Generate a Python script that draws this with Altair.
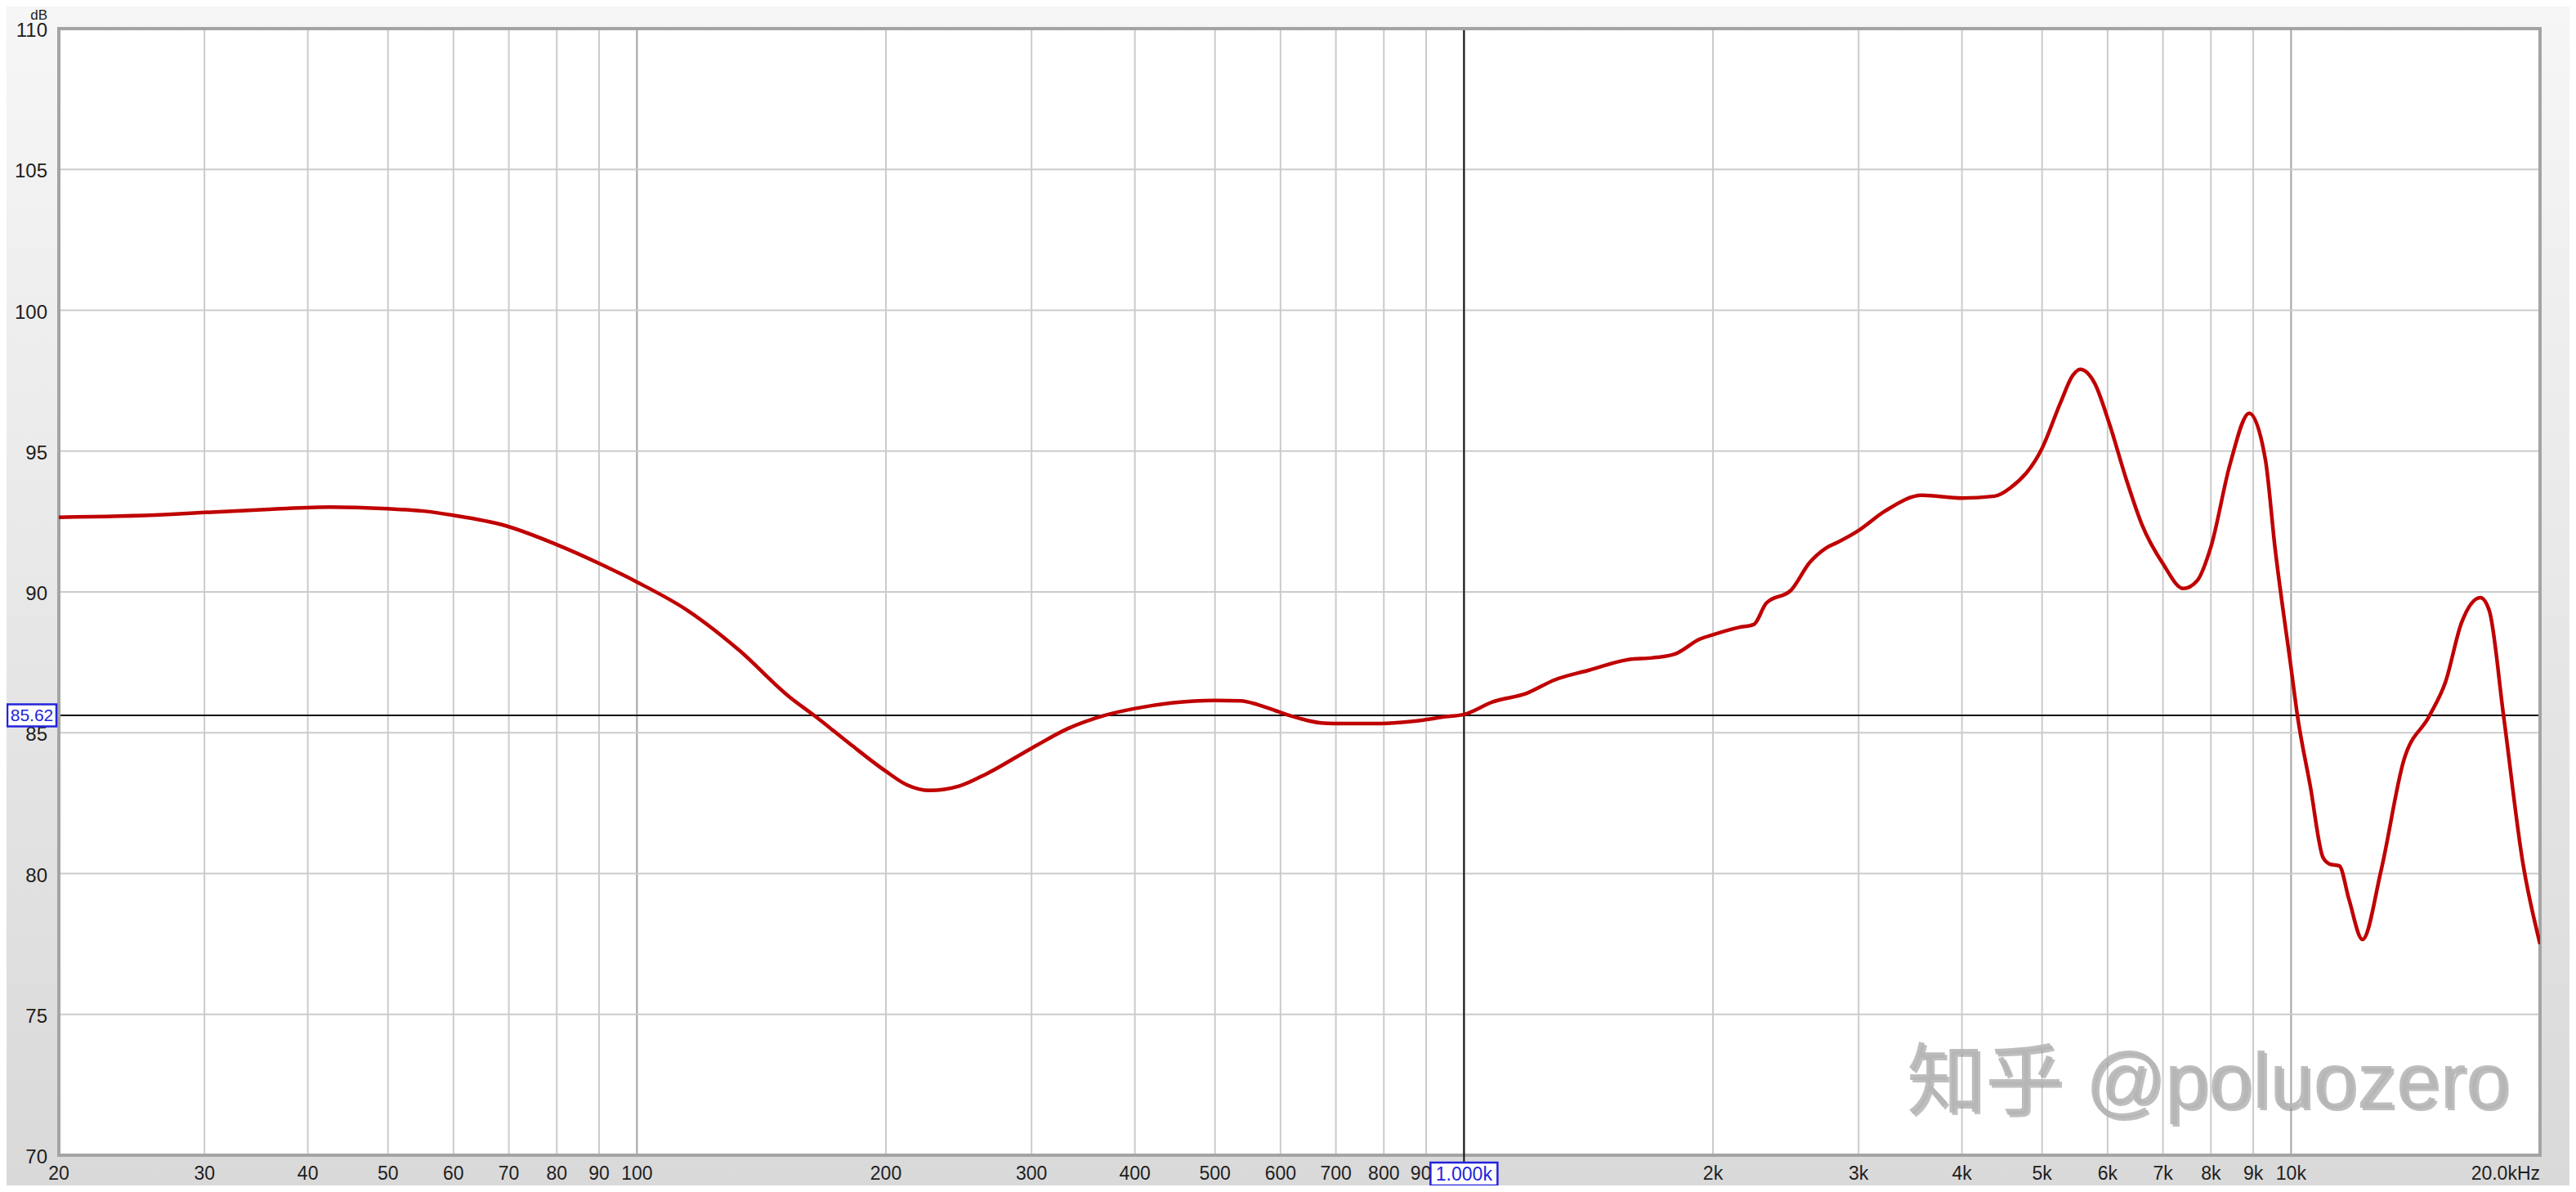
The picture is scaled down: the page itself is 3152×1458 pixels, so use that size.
import altair as alt
import pandas as pd

# ---------------- data ----------------
FREQ_HZ = [20, 26.8, 30, 35.9, 42.6, 50, 55.2, 60, 68.8, 80.3, 90.5, 100, 114.6, 132.9, 152.8,
           164, 181, 200, 212, 226, 245, 265, 300, 332, 366, 400, 443, 500, 537, 563, 600, 631,
           671, 697, 795, 863, 893, 950, 1000, 1084, 1190, 1288, 1416, 1581, 1690, 1800, 1930,
           2000, 2150, 2240, 2320, 2487, 2619, 2740, 2834, 3000, 3228, 3580, 4000, 4380, 4580,
           5000, 5260, 5450, 5560, 5790, 6030, 6320, 6600, 7000, 7410, 7700, 8000, 8440, 8900,
           9310, 9560, 10000, 10180, 10550, 10930, 11130, 11440, 11750, 12200, 12850, 13680,
           14700, 15370, 16070, 16940, 17360, 18070, 19060, 20000]
SPL_DB = [92.65, 92.74, 92.82, 92.93, 93.01, 92.95, 92.87, 92.72, 92.38, 91.66, 90.98, 90.35,
          89.38, 87.93, 86.28, 85.6, 84.6, 83.63, 83.15, 82.95, 83.1, 83.55, 84.45, 85.15, 85.6,
          85.86, 86.06, 86.15, 86.13, 86.0, 85.72, 85.52, 85.35, 85.33, 85.33, 85.4, 85.45, 85.57,
          85.65, 86.1, 86.4, 86.88, 87.22, 87.6, 87.66, 87.8, 88.33, 88.48, 88.74, 88.84, 89.6,
          90.07, 91.05, 91.56, 91.77, 92.18, 92.87, 93.43, 93.33, 93.4, 93.7, 95.1, 96.7, 97.7,
          97.9, 97.4, 95.97, 94.0, 92.4, 91.0, 90.12, 90.4, 91.6, 94.55, 96.34, 94.7, 91.6, 87.3,
          85.6, 83.1, 80.57, 80.34, 80.27, 79.08, 77.66, 80.12, 84.0, 85.6, 86.8, 88.9, 89.8,
          89.35, 85.6, 80.4, 77.5]

X_TICKS = [20, 30, 40, 50, 60, 70, 80, 90, 100, 200, 300, 400, 500, 600, 700, 800, 900,
           1000, 2000, 3000, 4000, 5000, 6000, 7000, 8000, 9000, 10000, 20000]
X_TICK_LABELS = ["20", "30", "40", "50", "60", "70", "80", "90", "100", "200", "300", "400",
                 "500", "600", "700", "800", "900", "1k", "2k", "3k", "4k", "5k", "6k", "7k",
                 "8k", "9k", "10k", "20.0kHz"]
DECADE_LINES = [100, 1000, 10000]
Y_TICKS = [70, 75, 80, 85, 90, 95, 100, 105, 110]
Y_UNIT = "dB"

CURSOR_DB = 85.62
CURSOR_HZ = 1000
WATERMARK = "知乎 @poluozero"

# ---------------- layout ----------------
W, H = 3036, 1378
FONT = "Liberation Sans, Arial, Noto Sans CJK SC"
xscale = alt.Scale(type="log", domain=[20, 20000])
yscale = alt.Scale(domain=[70, 110])
one = pd.DataFrame({"a": [0]})

bg = alt.Chart(one).mark_rect(
    clip=False,
    fill={"gradient": "linear", "x1": 0, "y1": 0, "x2": 0, "y2": 1,
          "stops": [{"offset": 0, "color": "#f6f6f6"}, {"offset": 1, "color": "#d9d9d9"}]},
).encode(x=alt.value(-64), x2=alt.value(W + 36), y=alt.value(-27), y2=alt.value(H + 37))

plot_bg = alt.Chart(one).mark_rect(fill="white", stroke="#a4a4a4", strokeWidth=4).encode(
    x=alt.value(0), x2=alt.value(W), y=alt.value(0), y2=alt.value(H))

xgrid_df = pd.DataFrame({"f": X_TICKS[1:-1]})
xgrid_df["major"] = xgrid_df["f"].isin(DECADE_LINES)
vgrid = alt.Chart(xgrid_df).mark_rule(strokeWidth=2).encode(
    x=alt.X("f:Q", scale=xscale, axis=None),
    y=alt.value(2), y2=alt.value(H - 2),
    color=alt.condition("datum.major", alt.value("#a2a2a2"), alt.value("#cbcbcb")),
)

hgrid = alt.Chart(pd.DataFrame({"v": Y_TICKS[1:-1]})).mark_rule(
    strokeWidth=2, color="#cbcbcb").encode(
    y=alt.Y("v:Q", scale=yscale, axis=None), x=alt.value(2), x2=alt.value(W - 2))

cur_h = alt.Chart(pd.DataFrame({"db": [CURSOR_DB]})).mark_rule(
    color="#111111", strokeWidth=2).encode(
    y=alt.Y("db:Q", scale=yscale, axis=None), x=alt.value(2), x2=alt.value(W - 2))
cur_v = alt.Chart(pd.DataFrame({"f": [CURSOR_HZ]})).mark_rule(
    color="#111111", strokeWidth=2).encode(
    x=alt.X("f:Q", scale=xscale, axis=None), y=alt.value(2), y2=alt.value(H + 8))

curve = alt.Chart(pd.DataFrame({"f": FREQ_HZ, "db": SPL_DB})).mark_line(
    color="#c00000", strokeWidth=4.5, interpolate="monotone", clip=True).encode(
    x=alt.X("f:Q", scale=xscale, axis=None),
    y=alt.Y("db:Q", scale=yscale, axis=None),
)

LABEL_Y = H + 23
xl_df = pd.DataFrame({"f": X_TICKS, "label": X_TICK_LABELS})
xlabels = alt.Chart(xl_df).transform_filter("datum.f < 20000").mark_text(
    font=FONT, fontSize=23, color="#1e1e1e", align="center", baseline="middle").encode(
    x=alt.X("f:Q", scale=xscale, axis=None), y=alt.value(LABEL_Y), text="label:N")
xlabel_last = alt.Chart(xl_df).transform_filter("datum.f >= 20000").mark_text(
    font=FONT, fontSize=23, color="#1e1e1e", align="right", baseline="middle").encode(
    x=alt.X("f:Q", scale=xscale, axis=None), y=alt.value(LABEL_Y), text="label:N")

ylabels = alt.Chart(pd.DataFrame({"v": Y_TICKS})).mark_text(
    font=FONT, fontSize=24, color="#1e1e1e", align="right", baseline="middle", dy=3).encode(
    y=alt.Y("v:Q", scale=yscale, axis=None), x=alt.value(-14), text="v:Q")

unit = alt.Chart(pd.DataFrame({"t": [Y_UNIT]})).mark_text(
    font=FONT, fontSize=17, color="#1e1e1e", align="right", baseline="middle").encode(
    x=alt.value(-14), y=alt.value(-16), text="t:N")

BLUE = "#2323dc"
ybox = alt.Chart(pd.DataFrame({"db": [CURSOR_DB]})).mark_point(
    shape="M-1,-0.45L1,-0.45L1,0.45L-1,0.45Z", size=3600, filled=True, fill="white",
    stroke=BLUE, strokeWidth=2.5, opacity=1, fillOpacity=1, strokeOpacity=1).encode(
    y=alt.Y("db:Q", scale=yscale, axis=None), x=alt.value(-33))
ytext = alt.Chart(pd.DataFrame({"db": [CURSOR_DB], "t": [f"{CURSOR_DB:.2f}"]})).mark_text(
    font=FONT, fontSize=21, color=BLUE, align="center", baseline="middle", dy=1).encode(
    y=alt.Y("db:Q", scale=yscale, axis=None), x=alt.value(-33), text="t:N")

xbox = alt.Chart(pd.DataFrame({"f": [CURSOR_HZ]})).mark_point(
    shape="M-1,-0.34L1,-0.34L1,0.34L-1,0.34Z", size=6724, filled=True, fill="white",
    stroke=BLUE, strokeWidth=2.5, opacity=1, fillOpacity=1, strokeOpacity=1).encode(
    x=alt.X("f:Q", scale=xscale, axis=None), y=alt.value(LABEL_Y))
xtext = alt.Chart(pd.DataFrame({"f": [CURSOR_HZ], "t": [f"{CURSOR_HZ / 1000:.3f}k"]})).mark_text(
    font=FONT, fontSize=23, color=BLUE, align="center", baseline="middle", dy=1).encode(
    x=alt.X("f:Q", scale=xscale, axis=None), y=alt.value(LABEL_Y), text="t:N")

wm_df = pd.DataFrame({"t": [WATERMARK]})
wm_shadow = alt.Chart(wm_df).mark_text(
    font=FONT, fontSize=96, color="#8c8c8c", opacity=0.55, align="left",
    baseline="alphabetic", dx=3, dy=3).encode(
    x=alt.value(2261), y=alt.value(H - 58), text="t:N")
wm = alt.Chart(wm_df).mark_text(
    font=FONT, fontSize=96, color="#b6b6b6", opacity=0.9, align="left",
    baseline="alphabetic").encode(
    x=alt.value(2261), y=alt.value(H - 58), text="t:N")

chart = alt.layer(
    bg, plot_bg, vgrid, hgrid, cur_h, cur_v, curve,
    xlabels, xlabel_last, ylabels, unit,
    wm_shadow, wm,
    ybox, ytext, xbox, xtext,
).resolve_scale(x="shared", y="shared").properties(
    width=W, height=H,
    autosize=alt.AutoSizeParams(type="none"),
    padding={"left": 64, "top": 27, "right": 36, "bottom": 37},
    background="#e6e6e6",
).configure_view(stroke=None)

chart.save("out.html", embed_options={"renderer": "svg", "actions": False})
